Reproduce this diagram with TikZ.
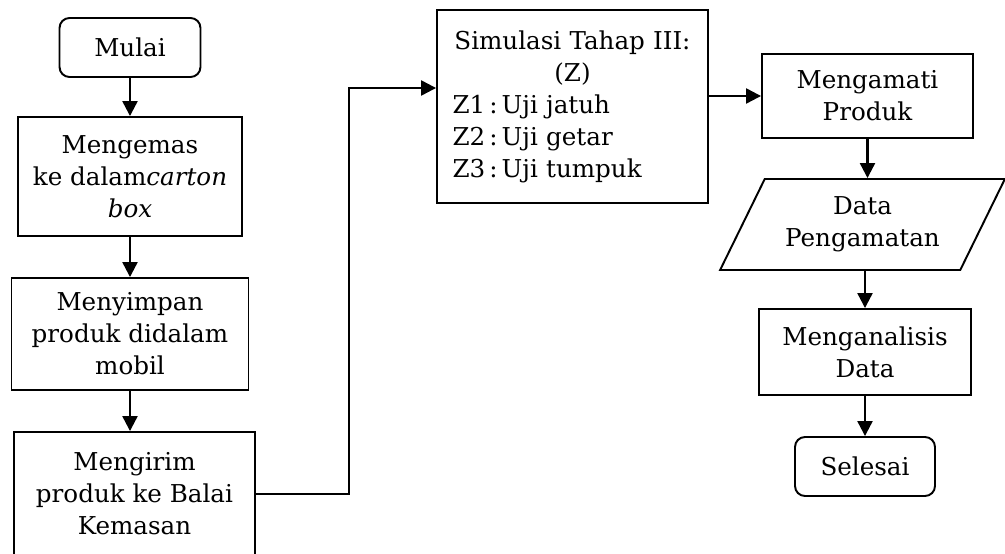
\documentclass[tikz,border=0pt]{standalone}
\usepackage{fontspec}
\setmainfont{DejaVu Serif}
\usetikzlibrary{arrows.meta, shapes.geometric}

\begin{document}
\begin{tikzpicture}[x=0.02cm, y=0.02cm]
\tikzstyle{every node}+=[inner sep=0pt, font=\fontsize{14}{18.2}\selectfont, align=center]
\tikzstyle{proses}=[draw, line width=1.1pt]
\tikzstyle{terminal}=[draw, line width=1.1pt, rounded corners=0.2cm]
\tikzstyle{dataio}=[draw, line width=1.1pt, trapezium, trapezium left angle=57.5, trapezium right angle=122.5, trapezium stretches=true]
\tikzstyle{alur}=[line width=1.3pt, -{Triangle[width=0.3cm,length=0.3cm]}]
\useasboundingbox (0,0) rectangle (1005,-554);
% kolom kiri
\node [terminal, minimum width=2.82cm, minimum height=1.18cm] (mulai) at (130,-47.5) {Mulai};
\node [proses, minimum width=4.48cm, minimum height=2.38cm] (kemas) at (130,-176.5) {Mengemas\\ke dalam\textit{carton}\\\textit{box}};
\node [proses, minimum width=4.74cm, minimum height=2.24cm] (simpan) at (130,-334) {Menyimpan\\produk didalam\\mobil};
\node [proses, minimum width=4.82cm, minimum height=2.48cm] (kirim) at (134.5,-494) {Mengirim\\produk ke Balai\\Kemasan};
% simulasi
\node [proses, minimum width=5.42cm, minimum height=3.86cm, text width=4.8cm, align=left] (sim) at (572.5,-106.5) {{\centering Simulasi Tahap III:\\(Z)\par}Z1\,:\,Uji jatuh\\Z2\,:\,Uji getar\\Z3\,:\,Uji tumpuk};
% kolom kanan
\node [proses, minimum width=4.22cm, minimum height=1.68cm] (mon) at (867.5,-96) {Mengamati\\Produk};
\node [dataio, minimum width=5.7cm, minimum height=1.82cm] (para) at (862.5,-224.5) {Data\\Pengamatan};
\node [proses, minimum width=4.24cm, minimum height=1.72cm] (ana) at (865,-352) {Menganalisis\\Data};
\node [terminal, minimum width=2.8cm, minimum height=1.18cm] (sel) at (865,-466.5) {Selesai};
\coordinate (belok) at (349,-88);
% panah
\draw [alur] (mulai) -- (kemas);
\draw [alur] (kemas) -- (simpan);
\draw [alur] (simpan) -- (simpan |- kirim.north);
\draw [alur] (kirim.east) -| (belok) -- (belok -| sim.west);
\draw [alur] (sim.east |- mon) -- (mon);
\draw [alur] (mon) -- (mon |- para.north);
\draw [alur] (ana |- para.south) -- (ana);
\draw [alur] (ana) -- (sel);
\end{tikzpicture}
\end{document}
